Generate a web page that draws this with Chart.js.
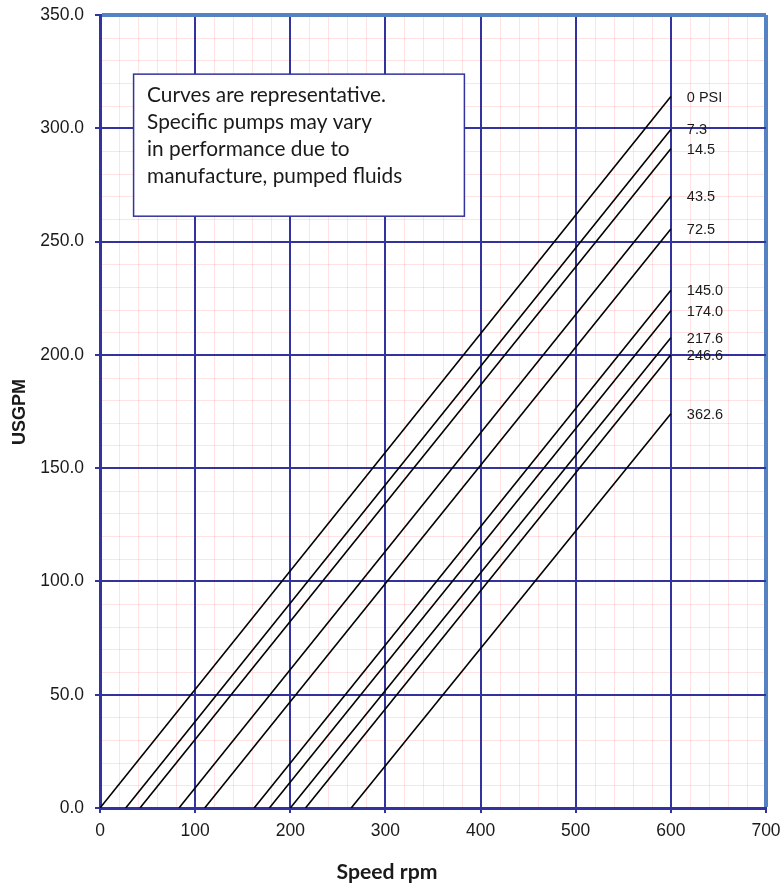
<!DOCTYPE html>
<html><head><meta charset="utf-8">
<script src="https://cdn.jsdelivr.net/npm/chart.js@4/dist/chart.umd.min.js"></script>
<style>html,body{margin:0;padding:0;background:#fff}canvas{display:block}</style>
</head><body>
<canvas id="c" width="783" height="886"></canvas>
<script>
// ---- data ----
const pressureLabels = ['0 PSI','7.3','14.5','43.5','72.5','145.0','174.0','217.6','246.6','362.6'];
const startRpm = [0, 27, 42, 83, 110, 162, 178, 200, 216, 264];
const endRpm = 600;
const endGpm = [314, 299.5, 291, 270, 255.5, 228.5, 219.5, 207.5, 200, 174];
const xTicks = [0, 100, 200, 300, 400, 500, 600, 700];
const yTicks = [0, 50, 100, 150, 200, 250, 300, 350];
const noteLines = ['Curves are representative.', 'Specific pumps may vary', 'in performance due to', 'manufacture, pumped fluids'];
const xTitle = 'Speed rpm';
const yTitle = 'USGPM';

// ---- styles ----
const NAVY = 'rgb(51,51,160)';
const LIGHT = 'rgb(84,130,195)';
const PINK = 'rgba(255,160,160,0.3)';
const TXT = '#1a1a1a';

const datasets = pressureLabels.map((lab, i) => ({
  label: lab,
  data: [{x: startRpm[i], y: 0}, {x: endRpm, y: endGpm[i]}],
  borderColor: '#000', borderWidth: 1.6, pointRadius: 0, fill: false, tension: 0
}));

const bgPlugin = {
  id: 'bg',
  beforeDraw(chart) {
    const {ctx, chartArea: a, scales: {x, y}} = chart;
    ctx.save();
    ctx.fillStyle = '#fff';
    ctx.fillRect(0, 0, chart.width, chart.height);
    ctx.strokeStyle = PINK; ctx.lineWidth = 1;
    for (let v = 0; v <= 700; v += 20) {
      const px = Math.round(x.getPixelForValue(v)) + 0.5;
      ctx.beginPath(); ctx.moveTo(px, a.top); ctx.lineTo(px, a.bottom); ctx.stroke();
    }
    for (let v = 0; v <= 350; v += 10) {
      const py = Math.round(y.getPixelForValue(v)) + 0.5;
      ctx.beginPath(); ctx.moveTo(a.left, py); ctx.lineTo(a.right, py); ctx.stroke();
    }
    ctx.restore();
  }
};

const annoPlugin = {
  id: 'anno',
  afterDatasetsDraw(chart) {
    const {ctx, scales: {x, y}} = chart;
    ctx.save();
    // series labels
    ctx.font = '14.5px "Liberation Sans", Arial, sans-serif';
    ctx.fillStyle = TXT; ctx.textAlign = 'left'; ctx.textBaseline = 'middle';
    pressureLabels.forEach((lab, i) => {
      ctx.fillText(lab, x.getPixelForValue(endRpm) + 16, y.getPixelForValue(endGpm[i]) + 1);
    });
    // note box
    const bx0 = x.getPixelForValue(35.3), bx1 = x.getPixelForValue(383);
    const by0 = y.getPixelForValue(323.9), by1 = y.getPixelForValue(261.2);
    ctx.fillStyle = '#fff';
    ctx.fillRect(bx0, by0, bx1 - bx0, by1 - by0);
    ctx.strokeStyle = NAVY; ctx.lineWidth = 1.5;
    ctx.strokeRect(bx0, by0, bx1 - bx0, by1 - by0);
    let fs = 19;
    ctx.font = fs + 'px Lato, "Open Sans", sans-serif';
    const w = ctx.measureText(noteLines[0]).width;
    fs = fs * 239 / w;
    ctx.font = fs.toFixed(2) + 'px Lato, "Open Sans", sans-serif';
    ctx.fillStyle = TXT; ctx.textBaseline = 'alphabetic';
    noteLines.forEach((t, i) => ctx.fillText(t, bx0 + 13.5, by0 + 27.7 + i * 27.2));
    ctx.restore();
  },
  afterDraw(chart) {
    const {ctx} = chart;
    ctx.save();
    ctx.fillStyle = TXT;
    // x title
    let fs = 17;
    ctx.font = 'bold ' + fs + 'px Lato, sans-serif';
    fs = fs * 101 / ctx.measureText(xTitle).width;
    ctx.font = 'bold ' + fs.toFixed(2) + 'px Lato, sans-serif';
    ctx.textAlign = 'center'; ctx.textBaseline = 'middle';
    ctx.fillText(xTitle, 387, 872);
    // y title
    ctx.translate(20, 412);
    ctx.rotate(-Math.PI / 2);
    ctx.font = 'bold 18px "Liberation Sans", Arial, sans-serif';
    ctx.fillText(yTitle, 0, 0);
    ctx.restore();
  }
};

new Chart(document.getElementById('c'), {
  type: 'line',
  data: {datasets},
  options: {
    responsive: false, animation: false,
    layout: {padding: {left: 0, top: 15, right: 17, bottom: 0}},
    plugins: {legend: {display: false}, tooltip: {enabled: false}},
    scales: {
      x: {
        type: 'linear', min: 0, max: 700,
        afterBuildTicks: s => { s.ticks = xTicks.map(v => ({value: v})); },
        afterFit: s => { s.height = 78; s.paddingLeft = 0; s.paddingRight = 0; },
        ticks: {color: TXT, font: {size: 17.5, family: '"Liberation Sans", Arial, sans-serif'}, padding: 8, maxRotation: 0},
        grid: {
          color: c => (c.tick && c.tick.value === 700) ? LIGHT : NAVY,
          lineWidth: c => (c.tick && c.tick.value === 700) ? 4 : 2,
          tickColor: NAVY, tickLength: 5, tickWidth: 2
        },
        border: {color: NAVY, width: 3}
      },
      y: {
        type: 'linear', min: 0, max: 350,
        afterBuildTicks: s => { s.ticks = yTicks.map(v => ({value: v})); },
        afterFit: s => { s.width = 100; s.paddingTop = 0; s.paddingBottom = 0; },
        ticks: {color: TXT, font: {size: 17.5, family: '"Liberation Sans", Arial, sans-serif'}, padding: 11,
          callback: v => Number(v).toFixed(1)},
        grid: {
          color: c => (c.tick && c.tick.value === 350) ? LIGHT : NAVY,
          lineWidth: c => (c.tick && c.tick.value === 350) ? 4 : 2,
          tickColor: NAVY, tickLength: 5, tickWidth: 2
        },
        border: {color: NAVY, width: 3}
      }
    }
  },
  plugins: [bgPlugin, annoPlugin]
});
</script>
</body></html>
